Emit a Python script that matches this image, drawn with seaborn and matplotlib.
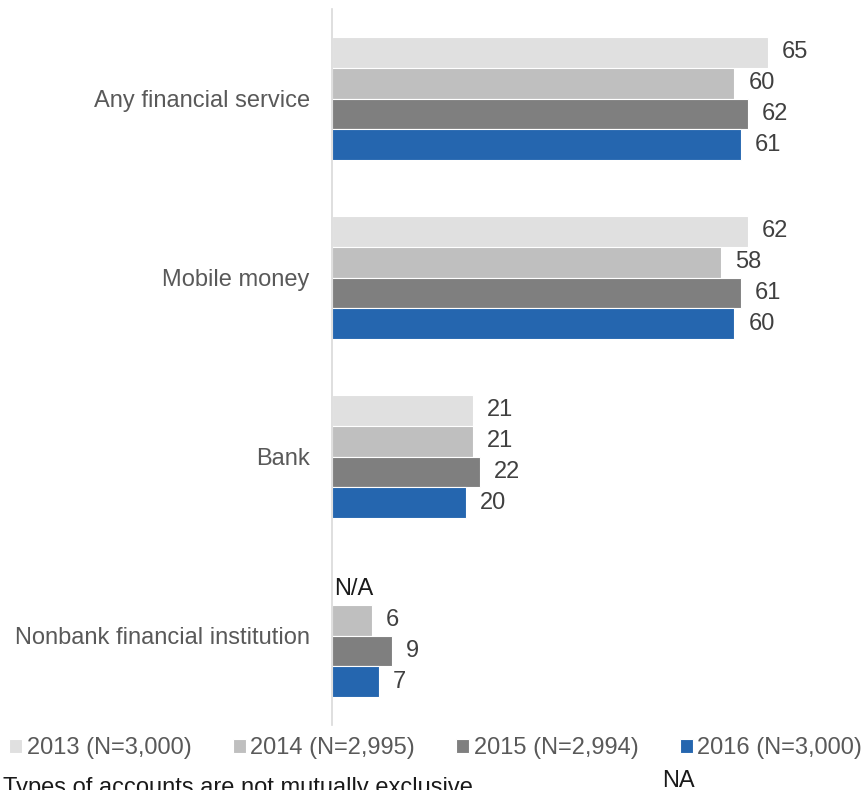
import numpy as np
import pandas as pd
import matplotlib
matplotlib.use("Agg")
import matplotlib.pyplot as plt
import seaborn as sns

# Account ownership by type, percent of adults
categories = ["Any financial service", "Mobile money", "Bank",
              "Nonbank financial institution"]
years = ["2013 (N=3,000)", "2014 (N=2,995)", "2015 (N=2,994)", "2016 (N=3,000)"]
values_2013 = [65, 62, 21, np.nan]   # nonbank not surveyed in 2013
values_2014 = [60, 58, 21, 6]
values_2015 = [62, 61, 22, 9]
values_2016 = [61, 60, 20, 7]
colors = ["#E0E0E0", "#BFBFBF", "#7F7F7F", "#2566AF"]

rows = []
for year, vals in zip(years, [values_2013, values_2014, values_2015, values_2016]):
    for cat, v in zip(categories, vals):
        rows.append({"category": cat, "year": year, "value": v})
df = pd.DataFrame(rows)
plot_df = df.dropna(subset=["value"])

sns.set_theme(style="white")
plt.rcParams["font.family"] = ["Liberation Sans", "DejaVu Sans"]

fig = plt.figure(figsize=(8.67, 7.90), dpi=100)
ax = fig.add_axes([332 / 867, 1 - 725 / 790, 1 - 332 / 867, 716 / 790])

bar_width = 0.687
sns.barplot(data=plot_df, y="category", x="value", hue="year",
            order=categories, hue_order=years, palette=colors,
            orient="h", width=bar_width, saturation=1, errorbar=None,
            edgecolor="white", linewidth=0.8, ax=ax, legend=True)

ax.set_xlim(0, 535 / 6.708)
ax.set_ylim(3.5, -0.5)
ax.set_xlabel("")
ax.set_ylabel("")
ax.set_xticks([])
ax.tick_params(axis="y", length=0, pad=16, labelsize=17, labelcolor="#595959")
for side in ["top", "right", "bottom"]:
    ax.spines[side].set_visible(False)
ax.spines["left"].set_color("#D9D9D9")
ax.spines["left"].set_linewidth(1.2)

for cont in ax.containers:
    ax.bar_label(cont, fmt="%g", padding=10, fontsize=17, color="#404040")

# Missing 2013 value for nonbank institutions
na_y = categories.index("Nonbank financial institution") + (0 - 1.5) * bar_width / 4
ax.text(0.3, na_y, "N/A", fontsize=17, color="#1A1A1A", va="center", ha="left")

handles, labels = ax.get_legend_handles_labels()
ax.legend_.remove()
fig.legend(handles, labels, loc="center left", bbox_to_anchor=(9 / 867, 1 - 748 / 790),
           ncol=4, frameon=False, fontsize=17, labelcolor="#595959",
           handlelength=0.55, handleheight=0.55, handletextpad=0.2,
           columnspacing=1.74, borderpad=0, borderaxespad=0)

fig.text(3 / 867, -4 / 790, "Types of accounts are not mutually exclusive",
         fontsize=17, color="#1A1A1A", va="baseline", ha="left")
fig.text(662 / 867, 3 / 790, "NA", fontsize=17, color="#1A1A1A",
         va="baseline", ha="left")

fig.savefig("out.png", dpi=100)
